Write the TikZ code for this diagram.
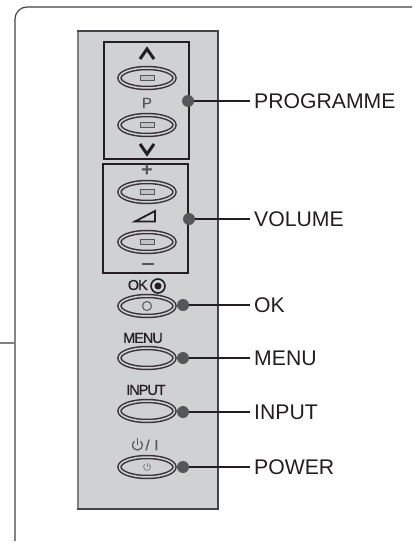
\documentclass[tikz,border=0pt]{standalone}
\usepackage{fontspec}
\setmainfont{Liberation Sans}
\newfontfamily\panelfont[LetterSpace=-7,FakeBold=0.5]{Liberation Sans}
\usetikzlibrary{shapes.geometric}
\definecolor{panelgris}{RGB}{208,209,211}
\definecolor{encre}{RGB}{35,31,32}
\definecolor{pointgris}{RGB}{85,86,90}
\tikzset{
	pushbutton/.style={ellipse, draw=encre!90, line width=1.5pt, double=panelgris, double distance=1.5pt, fill=panelgris, minimum width=55pt, minimum height=20pt, inner sep=0pt},
	keycap/.style={draw=pointgris, fill=panelgris!80!gray, line width=1pt, minimum width=14pt, minimum height=5pt, inner sep=0pt},
	groupbox/.style={draw=encre, line width=1.1pt},
	keydot/.style={circle, fill=pointgris, minimum size=12pt, inner sep=0pt},
	calllabel/.style={anchor=west, font=\fontsize{21.2}{23}\selectfont, text=encre, inner sep=4pt},
	paneltext/.style={font=\panelfont\fontsize{14.5}{15}\selectfont, text=encre, inner sep=0pt},
	leader/.style={encre, line width=1.2pt}
}

\begin{document}
\begin{tikzpicture}[x=1pt,y=-1pt]
	\useasboundingbox (0,0) rectangle (413,543);
	% outer frame and stub
	\draw[encre!85, line width=1.2pt, rounded corners=12pt] (412,7) -- (15,7) -- (15,541);
	\draw[gray, line width=1.2pt] (0,343) -- (15,343);

	% panel
	\draw[fill=panelgris, draw=pointgris!80!black, line width=1.6pt] (78,31) rectangle (218,509);
	\draw[gray, line width=2pt] (78,32) -- (78,508);

	% programme group
	\draw[groupbox] (104,42) rectangle (189,159);
	\draw[encre, line width=3pt] (140,59) -- (147,49) -- (154,59);
	\node[pushbutton] (progup) at (147,78) {};
	\node[keycap] (progupcap) at (147,78) {};
	\node[paneltext, text=pointgris, font=\panelfont\fontsize{15}{15}\selectfont] (progp) at (147,103) {P};
	\node[pushbutton] (progdown) at (147,125) {};
	\node[keycap] (progdowncap) at (147,125) {};
	\draw[encre, line width=3pt] (140,144) -- (147,154) -- (154,144);

	% volume group
	\draw[groupbox] (103,164) rectangle (188,273);
	\node[paneltext, text=pointgris, font=\bfseries\fontsize{20}{20}\selectfont] (volplus) at (147,171) {+};
	\node[pushbutton] (volup) at (147,192) {};
	\node[keycap] (volupcap) at (147,192) {};
	\draw[encre, line width=1.8pt, line join=miter] (135,221.5) -- (155,221.5) -- (155,211) -- cycle;
	\node[pushbutton] (voldown) at (147,242) {};
	\node[keycap] (voldowncap) at (147,242) {};
	\draw[pointgris, line width=2.2pt] (142,264) -- (154,264);

	% single keys
	\node[paneltext, anchor=east] (oktext) at (148,285) {OK};
	\node[circle, draw=encre, line width=1.6pt, minimum size=14pt, inner sep=0pt] (oksign) at (158,286) {};
	\fill[encre] (oksign.center) circle[radius=3.5];
	\node[pushbutton] (okkey) at (147,306) {};
	\node[circle, draw=pointgris, line width=1pt, minimum size=9pt, inner sep=0pt] (okcap) at (147,306) {};

	\node[paneltext] (menutext) at (143,338) {MENU};
	\node[pushbutton] (menukey) at (147,358) {};

	\node[paneltext] (inputtext) at (146,390) {INPUT};
	\node[pushbutton] (inputkey) at (147,411) {};

	% power symbol, text beside it
	\draw[pointgris, line width=1.2pt] (140.7,441.2) arc[start angle=-50, end angle=230, radius=5];
	\draw[pointgris, line width=1.2pt] (137.5,438) -- (137.5,445);
	\node[paneltext, text=pointgris] (powertext) at (152,445) {/\,\,I};
	\node[pushbutton] (powerkey) at (147,467) {};
	\draw[gray, line width=0.8pt] (149.25,464.3) arc[start angle=-50, end angle=230, radius=3.5];
	\draw[gray, line width=0.8pt] (147,462.5) -- (147,467);

	% dots and labels
	\node[keydot] (progdot) at (188,101) {};
	\node[keydot] (voldot) at (189,219) {};
	\node[keydot] (okdot) at (183,305) {};
	\node[keydot] (menudot) at (183,358) {};
	\node[keydot] (inputdot) at (183,412) {};
	\node[keydot] (powerdot) at (183,467) {};

	\node[calllabel] (proglabel) at (250,101) {PROGRAMME};
	\node[calllabel] (vollabel) at (250,219) {VOLUME};
	\node[calllabel] (oklabel) at (250,305) {OK};
	\node[calllabel] (menulabel) at (250,358) {MENU};
	\node[calllabel] (inputlabel) at (250,412) {INPUT};
	\node[calllabel] (powerlabel) at (250,467) {POWER};

	\draw[leader] (progdot) -- (proglabel);
	\draw[leader] (voldot) -- (vollabel);
	\draw[leader] (okdot) -- (oklabel);
	\draw[leader] (menudot) -- (menulabel);
	\draw[leader] (inputdot) -- (inputlabel);
	\draw[leader] (powerdot) -- (powerlabel);
\end{tikzpicture}
\end{document}
